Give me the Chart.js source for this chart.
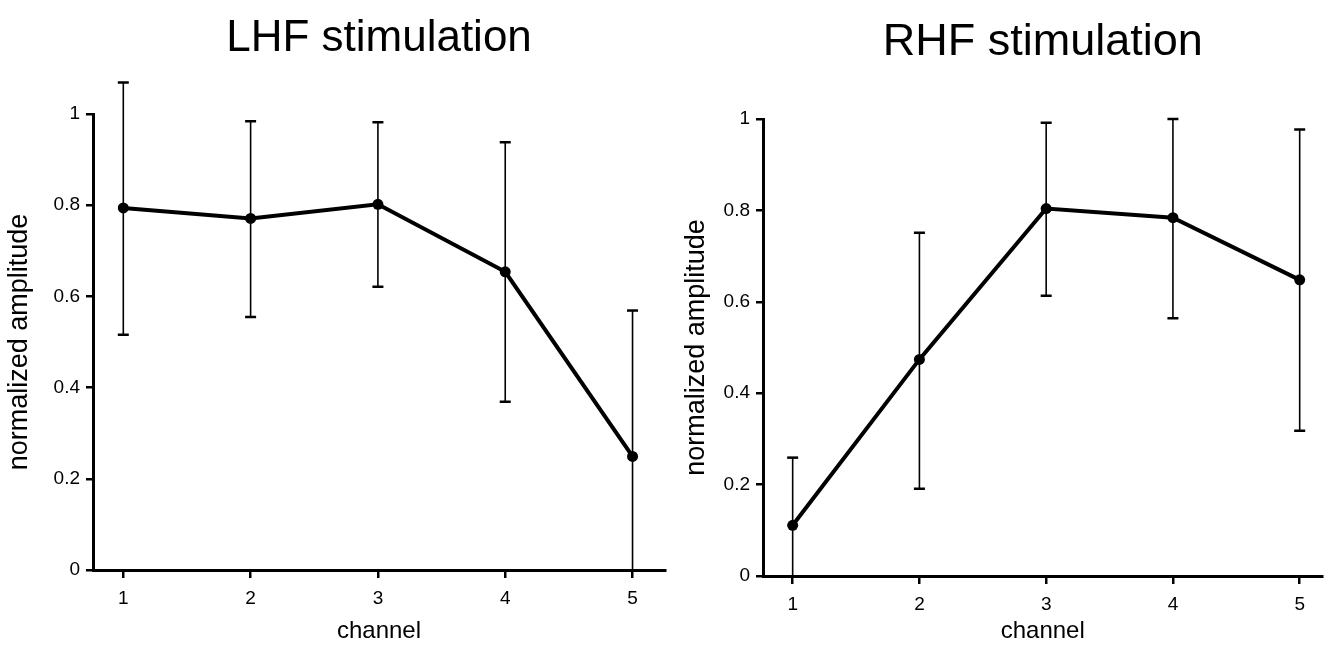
<!DOCTYPE html>
<html>
<head>
<meta charset="utf-8">
<script src="https://cdn.jsdelivr.net/npm/chart.js@4.4.1/dist/chart.umd.min.js"></script>
<style>
  body { margin: 0; background: #fff; }
  #wrap { position: relative; width: 1328px; height: 646px; overflow: hidden; }
  canvas { position: absolute; top: 0; }
  #lhf { left: 0; }
  #rhf { left: 680px; }
</style>
</head>
<body>
<div id="wrap">
  <canvas id="lhf" width="680" height="646"></canvas>
  <canvas id="rhf" width="648" height="646"></canvas>
</div>
<script>
const channels = [1, 2, 3, 4, 5];
const yTicks = [0, 0.2, 0.4, 0.6, 0.8, 1];

const lhfMean = [0.794, 0.771, 0.802, 0.654, 0.249];
const lhfUpper = [1.069, 0.984, 0.982, 0.938, 0.569];
const lhfLower = [0.516, 0.555, 0.621, 0.369, 0];

const rhfMean = [0.111, 0.474, 0.804, 0.784, 0.648];
const rhfUpper = [0.259, 0.751, 0.992, 1.0, 0.977];
const rhfLower = [0, 0.191, 0.613, 0.564, 0.318];

const FONT = "'Liberation Sans', Arial, Helvetica, sans-serif";

// draws the vertical error bars from the upper/lower arrays
const errorBars = {
    id: "errorBars",
    afterDatasetsDraw(chart, args, opts) {
        const ctx = chart.ctx;
        const xs = chart.scales.x;
        const ys = chart.scales.y;
        ctx.save();
        ctx.strokeStyle = "#000";
        opts.upper.forEach(function (hi, i) {
            const lo = opts.lower[i];
            const x = xs.getPixelForValue(channels[i]);
            const yHi = ys.getPixelForValue(hi);
            const yLo = ys.getPixelForValue(lo);
            ctx.lineWidth = 1.6;
            ctx.beginPath();
            ctx.moveTo(x, yHi);
            ctx.lineTo(x, yLo);
            ctx.stroke();
            ctx.lineWidth = 2.5;
            ctx.beginPath();
            ctx.moveTo(x - 5.5, yHi);
            ctx.lineTo(x + 5.5, yHi);
            if (lo > 0) {
                ctx.moveTo(x - 5.5, yLo);
                ctx.lineTo(x + 5.5, yLo);
            }
            ctx.stroke();
        });
        ctx.restore();
    }
};

function makePanel(id, title, mean, upper, lower, cfg) {
    const ctx = document.getElementById(id).getContext("2d");
    return new Chart(ctx, {
        type: "line",
        data: {
            datasets: [{
                data: channels.map(function (c, i) { return { x: c, y: mean[i] }; }),
                borderColor: "#000",
                backgroundColor: "#000",
                borderWidth: 4,
                pointRadius: 5.5,
                pointBackgroundColor: "#000",
                pointBorderWidth: 0,
                tension: 0,
                clip: false
            }]
        },
        options: {
            responsive: false,
            animation: false,
            layout: { padding: { left: 0, right: cfg.padRight, top: 0, bottom: 0 } },
            plugins: {
                legend: { display: false },
                tooltip: { enabled: false },
                title: {
                    display: true,
                    text: title,
                    fullSize: false,
                    color: "#000",
                    font: { family: FONT, size: cfg.titleSize, weight: "normal" },
                    padding: { top: cfg.titleTop, bottom: cfg.chartTop - cfg.titleTop - cfg.titleSize * 1.2 }
                },
                errorBars: { upper: upper, lower: lower }
            },
            scales: {
                x: {
                    type: "linear",
                    min: cfg.xMin,
                    max: cfg.xMax,
                    afterBuildTicks: function (s) { s.ticks = channels.map(function (v) { return { value: v }; }); },
                    afterFit: function (s) { s.height = cfg.xHeight; },
                    border: { display: true, color: "#000", width: 3 },
                    grid: { display: true, drawOnChartArea: false, drawTicks: true, tickLength: 8, color: "#000", lineWidth: 2.5 },
                    ticks: { color: "#000", padding: 9, font: { family: FONT, size: 19 }, callback: function (v) { return String(v); } },
                    title: { display: true, text: "channel", color: "#000", padding: { top: 0, bottom: 0 }, font: { family: FONT, size: 24 } }
                },
                y: {
                    min: 0,
                    max: 1,
                    afterBuildTicks: function (s) { s.ticks = yTicks.map(function (v) { return { value: v }; }); },
                    afterFit: function (s) { s.width = cfg.yWidth; },
                    border: { display: true, color: "#000", width: 3 },
                    grid: { display: true, drawOnChartArea: false, drawTicks: true, tickLength: 7, color: "#000", lineWidth: 2.5 },
                    ticks: { color: "#000", padding: 6, font: { family: FONT, size: 19 }, callback: function (v) { return String(v); } },
                    title: { display: true, text: "normalized amplitude", color: "#000", padding: { top: cfg.yTitlePad, bottom: 0 }, font: { family: FONT, size: 27 } }
                }
            }
        },
        plugins: [errorBars]
    });
}

makePanel("lhf", "LHF stimulation", lhfMean, lhfUpper, lhfLower, {
    titleSize: 44, titleTop: 12, chartTop: 114,
    xMin: 0.762, xMax: 5.255, xHeight: 76, padRight: 15,
    yWidth: 93, yTitlePad: 3
});

makePanel("rhf", "RHF stimulation", rhfMean, rhfUpper, rhfLower, {
    titleSize: 45, titleTop: 16, chartTop: 119,
    xMin: 0.766, xMax: 5.18, xHeight: 70, padRight: 0,
    yWidth: 83, yTitlePad: 0
});
</script>
</body>
</html>
